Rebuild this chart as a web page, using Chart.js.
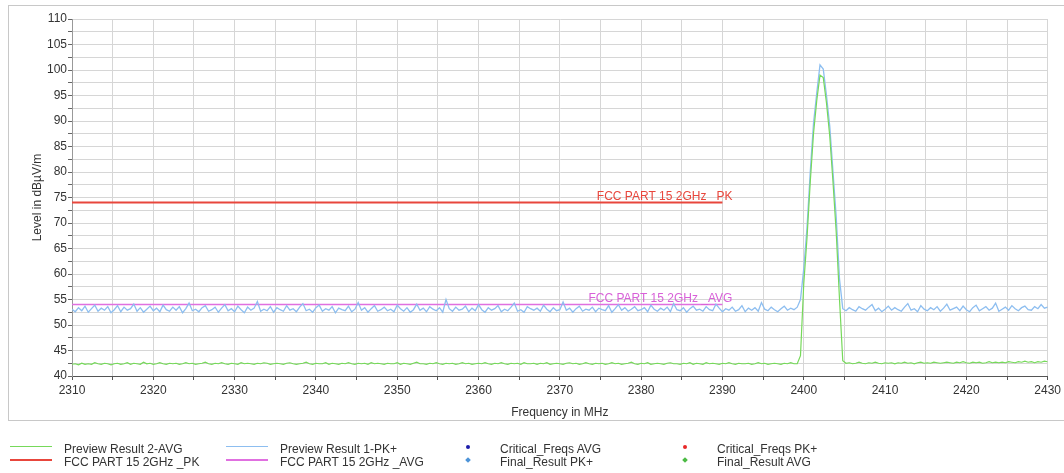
<!DOCTYPE html>
<html><head><meta charset="utf-8">
<script src="https://cdn.jsdelivr.net/npm/chart.js@4.4.1/dist/chart.umd.min.js"></script>
<style>
body{margin:0;background:#fff;font-family:"Liberation Sans",Arial,sans-serif;overflow:hidden}
#frame{position:absolute;left:8px;top:5px;width:1060px;height:416px;border:1px solid #c8c8c8;box-sizing:border-box}
#wrap{position:absolute;left:0;top:0;width:1064px;height:425px}
#legend{position:absolute;left:0;top:0;width:1064px;height:473px;font-size:12px;color:#333;pointer-events:none}
.txt{position:absolute;white-space:nowrap;line-height:14px;height:14px}
.ln{position:absolute;height:1px}
.dot{position:absolute;width:4px;height:4px;border-radius:50%}
.dia{position:absolute;width:4px;height:4px;transform:rotate(45deg)}
</style></head>
<body>
<div id="frame"></div>
<div id="wrap"><canvas id="c" width="1064" height="425"></canvas></div>
<div id="legend"></div>
<script>
// ---- data ----
const freqStart = 2310;     // MHz, first sweep point
const freqStep = 0.4;       // MHz between sweep points
const pkValues = [
53.1,52.6,53.4,52.8,53.7,52.5,53.2,53.9,52.7,53.3,52.9,53.6,52.4,53.0,53.8,52.6,
53.5,52.9,53.2,54.1,52.7,53.4,52.5,53.1,53.7,52.8,53.3,52.6,53.9,53.0,52.7,53.5,
52.9,53.6,52.4,53.2,54.3,52.8,53.1,52.6,53.4,53.8,52.7,53.0,53.5,52.5,53.3,54.0,
52.8,53.2,52.6,53.7,53.0,52.4,53.5,52.9,53.3,54.6,52.7,53.1,52.8,53.6,52.5,53.4,
53.0,52.7,53.8,52.9,53.2,52.6,53.5,54.2,52.8,53.1,52.5,53.4,53.9,52.7,53.2,52.9,
53.6,52.4,53.3,53.0,52.8,53.7,52.6,53.1,54.4,52.9,53.4,52.5,53.2,53.8,52.7,53.0,
53.5,52.8,53.1,52.6,53.9,53.2,52.7,53.4,52.5,53.0,54.1,52.9,53.3,52.6,53.6,53.1,
52.8,53.4,52.5,55.0,53.2,52.7,53.5,52.9,53.1,53.7,52.6,53.3,52.8,54.0,53.0,52.5,
53.4,52.9,53.2,53.8,52.6,53.1,52.8,53.5,54.3,52.7,53.0,52.5,53.6,53.2,52.9,53.3,
52.7,53.9,53.1,52.6,53.4,52.8,53.0,54.5,52.9,53.3,52.5,53.2,53.7,52.7,53.1,52.9,
53.5,52.6,53.3,53.0,52.8,53.8,52.5,53.2,54.0,52.9,53.4,52.7,53.1,53.6,52.8,53.0,
53.4,52.6,53.9,53.1,52.7,53.3,52.9,53.5,52.6,54.2,53.0,52.8,53.4,52.5,53.2,53.7,
52.9,53.1,52.7,53.6,53.0,52.8,54.1,53.3,52.6,53.2,52.9,53.5,52.7,53.0,53.8,52.6,
53.3,52.9,53.4,52.7,54.4,53.1,52.8,53.5,53.0,52.6,53.2,53.7,52.9,53.3,53.0,53.5,
55.0,61.0,69.0,80.0,89.5,95.5,101.0,100.2,95.0,89.0,80.0,71.0,59.0,53.2,
52.8,53.4,53.0,52.7,53.6,53.2,52.9,53.5,54.0,52.8,53.3,52.6,53.1,53.7,52.9,53.4,
53.0,52.7,53.5,54.2,52.9,53.2,52.6,53.8,53.1,52.8,53.4,53.0,53.6,52.7,53.3,54.1,
52.9,53.2,53.5,52.8,53.7,53.0,52.6,53.4,53.9,52.8,53.2,53.6,52.9,53.3,54.3,52.7,
53.1,53.5,52.9,53.8,53.2,52.8,53.4,53.7,53.0,52.9,53.6,53.2,54.0,53.3,53.5
];
const avgValues = [
42.3,42.4,42.2,42.5,42.3,42.4,42.3,42.6,42.4,42.3,42.5,42.4,42.2,42.4,42.5,42.3,
42.4,42.6,42.3,42.5,42.4,42.3,42.7,42.4,42.5,42.3,42.4,42.6,42.4,42.3,42.5,42.4,
42.5,42.3,42.4,42.6,42.4,42.5,42.3,42.4,42.5,42.7,42.4,42.3,42.5,42.4,42.6,42.4,
42.3,42.5,42.4,42.3,42.6,42.4,42.5,42.4,42.3,42.5,42.4,42.6,42.5,42.3,42.4,42.5,
42.4,42.3,42.5,42.6,42.4,42.3,42.4,42.5,42.7,42.4,42.3,42.5,42.4,42.4,42.6,42.3,
42.5,42.4,42.3,42.5,42.4,42.6,42.4,42.3,42.5,42.4,42.5,42.3,42.6,42.4,42.5,42.4,
42.3,42.5,42.4,42.4,42.6,42.3,42.5,42.4,42.3,42.5,42.7,42.4,42.4,42.3,42.5,42.4,
42.6,42.4,42.3,42.5,42.4,42.5,42.3,42.4,42.6,42.4,42.5,42.3,42.4,42.5,42.4,42.6,
42.4,42.3,42.5,42.4,42.6,42.4,42.3,42.5,42.4,42.5,42.3,42.6,42.4,42.4,42.5,42.3,
42.5,42.4,42.6,42.3,42.4,42.5,42.4,42.3,42.5,42.6,42.4,42.5,42.3,42.4,42.6,42.4,
42.3,42.5,42.4,42.5,42.3,42.4,42.6,42.4,42.5,42.3,42.4,42.5,42.7,42.4,42.3,42.5,
42.4,42.6,42.3,42.4,42.5,42.4,42.3,42.5,42.6,42.4,42.4,42.3,42.5,42.4,42.6,42.3,
42.5,42.4,42.3,42.6,42.4,42.5,42.4,42.3,42.5,42.4,42.6,42.4,42.3,42.5,42.4,42.4,
42.5,42.3,42.4,42.6,42.4,42.5,42.3,42.4,42.5,42.4,42.3,42.5,42.4,42.6,42.4,42.4,
44.0,58.0,67.0,78.0,87.5,94.0,99.0,98.5,93.5,87.0,78.0,68.0,55.0,43.0,
42.5,42.6,42.4,42.5,42.7,42.5,42.4,42.6,42.5,42.7,42.5,42.4,42.6,42.5,42.6,42.4,
42.6,42.5,42.7,42.5,42.6,42.4,42.6,42.7,42.5,42.6,42.5,42.7,42.6,42.5,42.6,42.7,
42.6,42.5,42.7,42.6,42.8,42.6,42.5,42.7,42.6,42.7,42.5,42.6,42.8,42.6,42.7,42.6,
42.7,42.6,42.8,42.7,42.6,42.8,42.7,42.9,42.7,42.8,42.6,42.8,42.7,42.9,42.8
];
const limitStart = 2310, limitEnd = 2390;   // MHz
const limitPK = 74;    // dBµV/m
const limitAVG = 54;   // dBµV/m
const seriesLabels = ["Preview Result 2-AVG","FCC PART 15 2GHz _PK","Preview Result 1-PK+","FCC PART 15 2GHz _AVG",
                      "Critical_Freqs AVG","Final_Result PK+","Critical_Freqs PK+","Final_Result AVG"];
const limitLabels = ["FCC PART 15 2GHz _PK","FCC PART 15 2GHz _AVG"];
const xTitle = "Frequency in MHz";
const yTitle = "Level in dBµV/m";
const xMin = 2310, xMax = 2430, yMin = 40, yMax = 110;

// ---- build ----
const toXY = arr => arr.map((v,i)=>({x: +(freqStart + i*freqStep).toFixed(2), y: v}));
const colors = ['#76d95a','#e8463c','#8dbef0','#e070e0','#1c1caa','#4d94d8','#e82828','#4cbb44'];
const FONT = '"Liberation Sans", Arial, sans-serif';

const datasets = [
  {label: seriesLabels[0], data: toXY(avgValues), borderColor: colors[0], borderWidth: 1.2, kind:'line'},
  {label: seriesLabels[1], data: [{x:limitStart,y:limitPK},{x:limitEnd,y:limitPK}], borderColor: colors[1], borderWidth: 2, kind:'line'},
  {label: seriesLabels[2], data: toXY(pkValues), borderColor: colors[2], borderWidth: 1.3, kind:'line'},
  {label: seriesLabels[3], data: [{x:limitStart,y:limitAVG},{x:limitEnd,y:limitAVG}], borderColor: colors[3], borderWidth: 1.5, kind:'line'},
  {label: seriesLabels[4], data: [], borderColor: colors[4], kind:'dot'},
  {label: seriesLabels[5], data: [], borderColor: colors[5], kind:'dia'},
  {label: seriesLabels[6], data: [], borderColor: colors[6], kind:'dot'},
  {label: seriesLabels[7], data: [], borderColor: colors[7], kind:'dia'}
].map(d => Object.assign({pointRadius:0, tension:0, fill:false, showLine:true, backgroundColor:d.borderColor}, d));

const limitLabelPlugin = {
  id:'limitLabels',
  afterDatasetsDraw(chart){
    const {ctx, scales:{x, y}} = chart;
    const items = [[limitLabels[0], limitPK, colors[1]], [limitLabels[1], limitAVG, '#d860d8']];
    ctx.save();
    ctx.font = '12px ' + FONT;
    ctx.textAlign = 'right';
    ctx.textBaseline = 'alphabetic';
    for (const [t, lvl, c] of items){
      ctx.fillStyle = c;
      ctx.fillText(t, x.getPixelForValue(limitEnd) + 10, y.getPixelForValue(lvl) - 3);
    }
    ctx.restore();
  }
};

const chart = new Chart(document.getElementById('c'), {
  type:'line',
  data:{datasets},
  options:{
    responsive:false, animation:false, events:[],
    layout:{padding:{left:0, right:15, top:19, bottom:0}},
    plugins:{legend:{display:false}, tooltip:{enabled:false}},
    scales:{
      x:{type:'linear', min:xMin, max:xMax,
         afterFit(s){ s.height = 49; },
         ticks:{stepSize:5, autoSkip:false, maxRotation:0, padding:3, color:'#333', font:{family:FONT, size:12},
                callback:v => (v % 10 === 0 ? String(v) : '')},
         grid:{color:'#d6d6d6', tickColor:'#555', tickLength:4},
         border:{color:'#555', width:1},
         title:{display:true, text:xTitle, color:'#333', font:{family:FONT, size:12}, padding:{top:0, bottom:5}}
      },
      y:{min:yMin, max:yMax,
         afterFit(s){ s.width = 72; },
         ticks:{stepSize:2.5, autoSkip:false, padding:1, color:'#333', font:{family:FONT, size:12},
                callback:v => (v % 5 === 0 ? String(v) : '')},
         grid:{color:'#d6d6d6', tickColor:'#666', tickLength:4},
         border:{color:'#999', width:1},
         title:{display:true, text:yTitle, color:'#333', font:{family:FONT, size:12}, padding:{top:30, bottom:0}}
      }
    }
  },
  plugins:[limitLabelPlugin]
});

// ---- HTML legend (4 columns x 2 rows, column-major) ----
const legCols = [{sx:10, tx:64}, {sx:226, tx:280}, {mx:468, tx:500}, {mx:685, tx:717}];
const legRows = [448.5, 462];
const leg = document.getElementById('legend');
chart.data.datasets.forEach((d, k) => {
  const col = legCols[Math.floor(k/2)], yc = legRows[k%2];
  const t = document.createElement('div');
  t.className = 'txt'; t.textContent = d.label;
  t.style.left = col.tx + 'px'; t.style.top = (yc - 7) + 'px';
  leg.appendChild(t);
  const m = document.createElement('div');
  if (d.kind === 'line'){
    m.className = 'ln'; m.style.left = col.sx + 'px'; m.style.width = '42px';
    m.style.top = Math.round(yc - 3) + 'px'; m.style.background = d.borderColor;
    if (k % 2 === 1) m.style.height = '2px';
  } else {
    m.className = d.kind; m.style.left = (col.mx - 2) + 'px'; m.style.top = (yc - 4) + 'px';
    m.style.background = d.borderColor;
  }
  leg.appendChild(m);
});
</script>
</body></html>
